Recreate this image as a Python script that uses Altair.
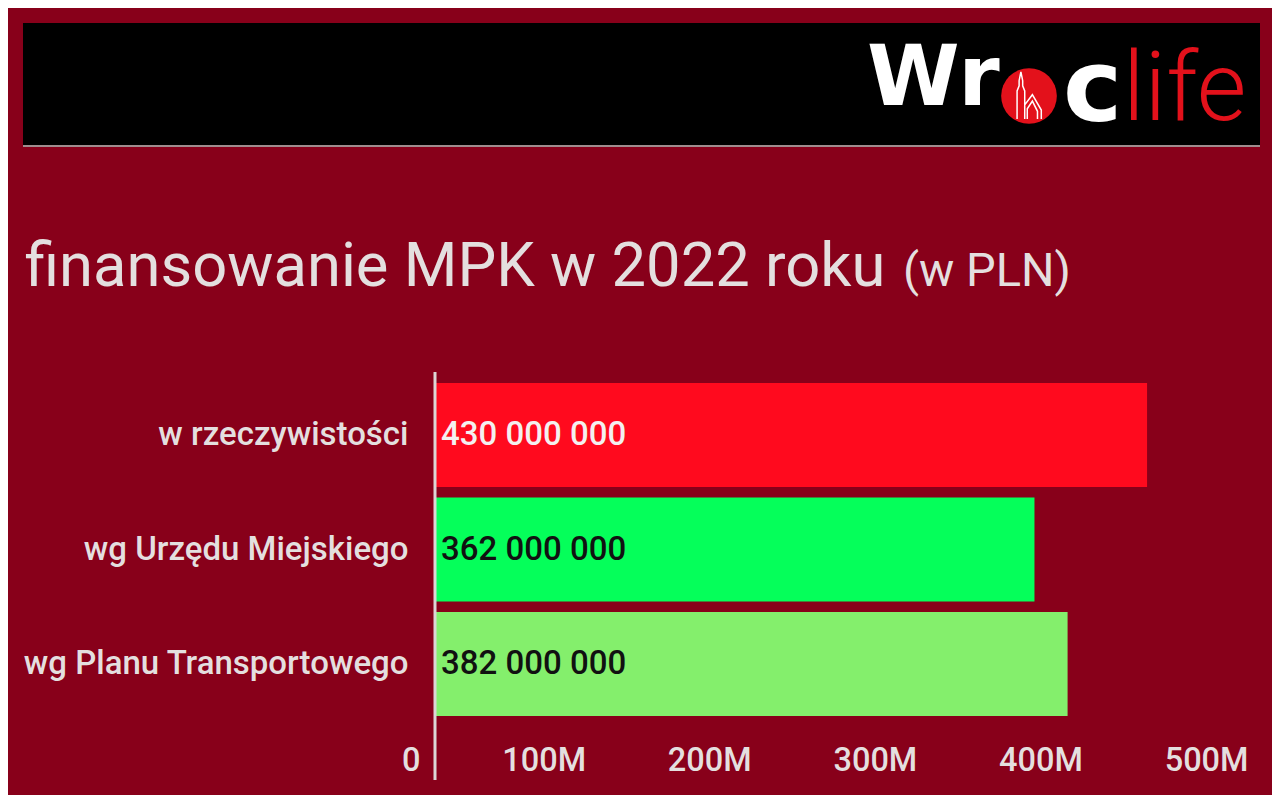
import altair as alt
import pandas as pd

# ---- data ----
categories = ["w rzeczywistości", "wg Urzędu Miejskiego", "wg Planu Transportowego"]
values = [430000000, 362000000, 382000000]
bar_colors = ["#ff0a1e", "#05ff5a", "#84ef6c"]
label_colors = ["#f4f0f0", "#111111", "#111111"]
tick_values = [0, 100000000, 200000000, 300000000, 400000000, 500000000]

title_main = "finansowanie MPK w 2022 roku"
title_unit = "(w PLN)"
logo_a = "Wr"
logo_c = "c"
logo_life = "life"

BG = "#88001a"
TXT = "#e4dfdf"

df = pd.DataFrame({
    "category": categories,
    "value": values,
    "bar_color": bar_colors,
    "label_color": label_colors,
    "label": [f"{v:,}".replace(",", " ") for v in values],
})
one = pd.DataFrame({"k": [0]})

W, H = 828, 355

y_axis = alt.Axis(
    title=None, ticks=False, domain=False, labelFont="Roboto",
    labelFontSize=33, labelFontWeight=500, labelColor=TXT,
    labelPadding=27, labelLimit=600, zindex=1,
)
y_enc = alt.Y(
    "category:N",
    sort=categories,
    scale=alt.Scale(paddingInner=0.092, paddingOuter=0.096),
    axis=y_axis,
)
x_enc = alt.X(
    "value:Q",
    scale=alt.Scale(domain=[0, 500000000], nice=False),
    axis=alt.Axis(
        values=tick_values,
        labelExpr="datum.value == 0 ? '0' : format(datum.value, '~s')",
        title=None, grid=False, ticks=False,
        domain=False, labelAlign="right", labelOffset=-15, labelFlush=False,
        labelFont="Roboto", labelFontSize=32.5, labelFontWeight=500,
        labelColor=TXT, labelPadding=17, zindex=1,
    ),
)

background = alt.Chart(one).mark_rect(color=BG).encode(
    x=alt.value(-427), x2=alt.value(837), y=alt.value(-364), y2=alt.value(423)
)
header = alt.Chart(one).mark_rect(color="#000000").encode(
    x=alt.value(-412), x2=alt.value(825), y=alt.value(-349), y2=alt.value(-227)
)
header_line = alt.Chart(one).mark_rule(color="#a08c8e", strokeWidth=2).encode(
    x=alt.value(-412), x2=alt.value(825), y=alt.value(-226)
)
logo1 = alt.Chart(one).mark_text(
    align="left", baseline="alphabetic", font="DejaVu Sans", fontWeight="bold",
    fontSize=84, color="#ffffff"
).encode(x=alt.value(432), y=alt.value(-267), text=alt.value(logo_a))
logo_circle = alt.Chart(one).mark_point(
    shape="circle", filled=True, size=3100, color="#e3111b", opacity=1
).encode(x=alt.value(594), y=alt.value(-276))
logo_church = alt.Chart(one).mark_point(
    shape="M-0.35,0.9 L-0.35,-0.2 L-0.27,-0.4 L-0.27,-0.6 L-0.2,-0.95 L-0.13,-0.6 "
          "L-0.13,-0.4 L-0.05,-0.2 L-0.05,0.9 M-0.05,0.35 L0.25,-0.05 L0.6,0.55 L0.6,0.9 "
          "M0.05,0.9 L0.05,0.5 L0.25,0.2 L0.45,0.6 L0.45,0.9",
    filled=False, size=2600, color="#ffffff", strokeWidth=1.5, opacity=1
).encode(x=alt.value(591), y=alt.value(-276))
logo2 = alt.Chart(one).mark_text(
    align="left", baseline="alphabetic", font="DejaVu Sans", fontWeight="bold",
    fontSize=100, color="#ffffff"
).encode(x=alt.value(628), y=alt.value(-251), text=alt.value(logo_c))
logo3 = alt.Chart(one).mark_text(
    align="left", baseline="alphabetic", font="Roboto", fontWeight=300,
    fontSize=96, color="#e3111b"
).encode(x=alt.value(688), y=alt.value(-252), text=alt.value(logo_life))

t1 = alt.Chart(one).mark_text(
    align="left", baseline="alphabetic", font="Roboto", fontSize=61.5, color=TXT
).encode(x=alt.value(-410), y=alt.value(-86), text=alt.value(title_main))
t2 = alt.Chart(one).mark_text(
    align="left", baseline="alphabetic", font="Roboto", fontSize=47, color=TXT
).encode(x=alt.value(468), y=alt.value(-86), text=alt.value(title_unit))

bars = alt.Chart(df).mark_bar().encode(
    y=y_enc, x=x_enc, color=alt.Color("bar_color:N", scale=None)
)
labels = alt.Chart(df).mark_text(
    align="left", baseline="middle", dx=6, font="Roboto", fontSize=33,
    fontWeight=500
).encode(
    y=alt.Y("category:N", sort=categories, axis=y_axis),
    x=alt.datum(0),
    text="label:N",
    color=alt.Color("label_color:N", scale=None),
)
zero_rule = alt.Chart(one).mark_rule(color="#ddd6d6", strokeWidth=3).encode(
    x=alt.datum(0), y=alt.value(0), y2=alt.value(408)
)

chart = alt.layer(
    background, header, header_line, logo_circle, logo_church, logo1, logo2, logo3,
    t1, t2, bars, labels, zero_rule
).properties(
    width=W, height=H, padding=0, background=BG
).configure_view(stroke=None)

chart.save("out.html", embed_options={"renderer": "svg", "actions": False})
